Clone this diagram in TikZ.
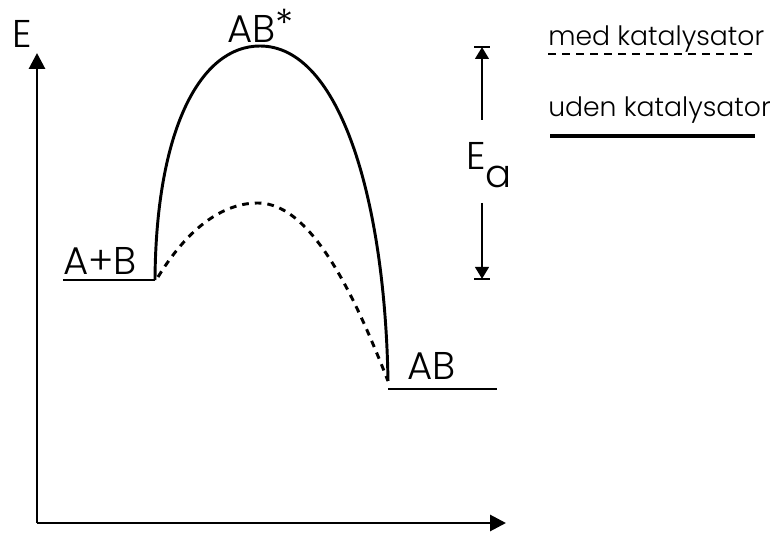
\documentclass[tikz,border=0pt]{standalone}
\usepackage{fontspec}
\setmainfont{Poppins}[UprightFont=* Light]
\usetikzlibrary{arrows.meta}
\begin{document}
\begin{tikzpicture}[x=0.75pt,y=-0.75pt,
  ax/.style={line width=2.2pt,-{Triangle[length=12pt,width=12pt]}},
  curve/.style={line width=2.2pt},
  dcurve/.style={line width=2.2pt,dash pattern=on 5pt off 4.5pt},
  lvl/.style={line width=2.2pt},
  ea/.style={line width=2.2pt,-{Triangle[length=9pt,width=10pt]}},
  lbl/.style={inner sep=0pt,font=\fontsize{29}{34}\selectfont},
  leg/.style={inner sep=0pt,font=\fontsize{20}{24}\selectfont}]
\useasboundingbox (0,0) rectangle (771,534);
% axes
\coordinate (O) at (37,523);
\coordinate (Ytip) at (37,53);
\coordinate (Xtip) at (506,523);
\draw[ax] (O) -- (Ytip);
\draw[ax] (O) -- (Xtip);
\node[lbl,anchor=base] (E) at (22,48) {E};
% levels
\coordinate (R0) at (63,280);
\coordinate (R1) at (155,280);
\coordinate (P0) at (388,389);
\coordinate (P1) at (497,389);
\coordinate (TS) at (260,46);
\coordinate (TSc) at (258,203);
\draw[lvl] (R0) -- (R1);
\draw[lvl] (P0) -- (P1);
\node[lbl,anchor=base west] (AplusB) at (63,275) {A+B};
\node[lbl,anchor=base west] (AB) at (407,380) {AB};
\node[lbl,anchor=base west] (ABstar) at (227,43) {AB\raisebox{4pt}{*}};
% curves
\draw[curve] (R1) .. controls (156,130) and (200,46) .. (TS)
  .. controls (340,46) and (385,200) .. (388,381);
\draw[dcurve] (158,277) .. controls (190,225) and (225,203) .. (TSc)
  .. controls (315,203) and (360,310) .. (388,381);
% Ea
\coordinate (EaT) at (482,47);
\coordinate (EaB) at (482,279);
\draw[ea] (482,120) -- (EaT);
\draw[ea] (482,203) -- (EaB);
\draw[line width=2pt] (474,47) -- (490,47);
\draw[line width=2pt] (474,279) -- (490,279);
\node[lbl,anchor=base west] (Ea) at (466,170) {E\raisebox{-13pt}{a}};
% legend
\node[leg,anchor=base west] (med) at (548,46) {med katalysator};
\node[leg,anchor=base west] (uden) at (548,117) {uden katalysator};
\draw[line width=1.8pt,dash pattern=on 6pt off 4.5pt] (548,54) -- (752,54);
\draw[line width=2.4pt] (550,136) -- (755,136);
\end{tikzpicture}
\end{document}
